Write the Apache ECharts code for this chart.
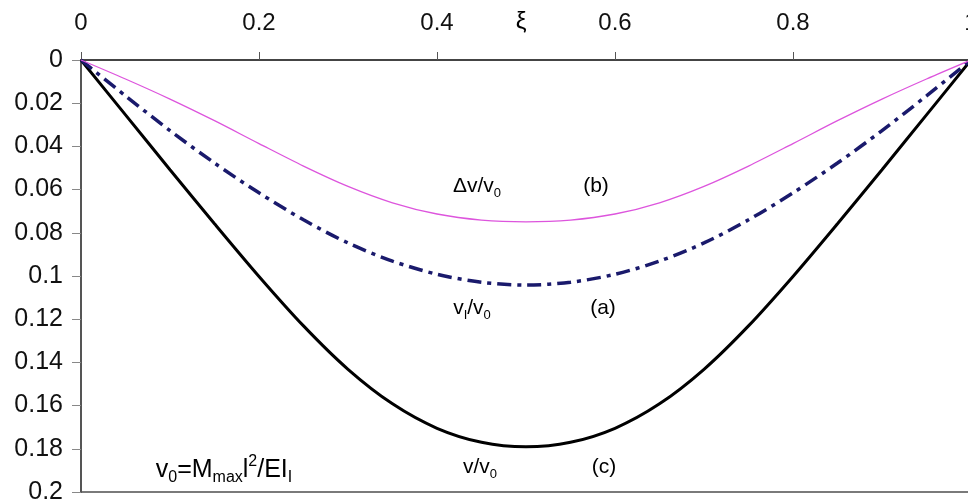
<!DOCTYPE html>
<html>
<head>
<meta charset="utf-8">
<script src="https://cdn.jsdelivr.net/npm/echarts@6/dist/echarts.min.js"></script>
<style>
  html, body { margin: 0; padding: 0; background: #fff; }
  #chart { width: 968px; height: 504px; }
</style>
</head>
<body>
<div id="chart"></div>
<script>
// Position along the beam, xi = x / l
const xi = [0, 0.05, 0.1, 0.15, 0.2, 0.25, 0.3, 0.35, 0.4, 0.45, 0.5,
            0.55, 0.6, 0.65, 0.7, 0.75, 0.8, 0.85, 0.9, 0.95, 1];

// (a) deflection of the uncracked beam, vI / v0
const vIRatio = [0, 0.0166, 0.0327, 0.0477, 0.0615, 0.0740, 0.0847, 0.0931, 0.0992, 0.1029, 0.1042,
                 0.1029, 0.0992, 0.0931, 0.0847, 0.0740, 0.0615, 0.0477, 0.0327, 0.0166, 0];

// (b) additional deflection, Δv / v0
const dvRatio = [0, 0.0088, 0.0181, 0.0281, 0.0387, 0.0491, 0.0585, 0.0661, 0.0713, 0.0741, 0.0749,
                 0.0741, 0.0713, 0.0661, 0.0585, 0.0491, 0.0387, 0.0281, 0.0181, 0.0088, 0];

// (c) total deflection, v / v0
const vRatio = [0, 0.0254, 0.0508, 0.0758, 0.1002, 0.1231, 0.1432, 0.1592, 0.1705, 0.1770, 0.1791,
                0.1770, 0.1705, 0.1592, 0.1432, 0.1231, 0.1002, 0.0758, 0.0508, 0.0254, 0];

// Axis ranges and tick steps
const xRange = [0, 1];
const xStep = 0.2;
const yRange = [0, 0.2];
const yStep = 0.02;

const FONT = '"Liberation Sans", Arial, sans-serif';

function pairs(ys) {
  return xi.map((x, i) => [x, ys[i]]);
}

const chart = echarts.init(document.getElementById('chart'), null, { renderer: 'canvas' });

const labelRich = {
  m: { fontSize: 21, fontFamily: FONT, color: '#111', lineHeight: 28, verticalAlign: 'middle' },
  s: { fontSize: 13, fontFamily: FONT, color: '#111', lineHeight: 13, verticalAlign: 'bottom' }
};

const formulaRich = {
  m: { fontSize: 25, fontFamily: FONT, color: '#111', lineHeight: 32, verticalAlign: 'middle' },
  s: { fontSize: 16, fontFamily: FONT, color: '#111', lineHeight: 15, verticalAlign: 'bottom' },
  p: { fontSize: 16, fontFamily: FONT, color: '#111', lineHeight: 22, verticalAlign: 'top' }
};

function note(x, y, text, rich) {
  return {
    type: 'text',
    x: x, y: y,
    style: {
      text: text,
      rich: rich || labelRich,
      align: 'center',
      verticalAlign: 'middle'
    },
    z: 10
  };
}

function curve(name, ys, lineStyle, z) {
  return {
    name: name,
    type: 'line',
    data: pairs(ys),
    smooth: 0.3,
    showSymbol: false,
    lineStyle: lineStyle,
    z: z
  };
}

chart.setOption({
  animation: false,
  backgroundColor: '#fff',
  grid: {
    left: 81, top: 60, width: 890, bottom: 12,
    outerBoundsMode: 'none',
    containLabel: false,
    show: true,
    borderColor: '#7a7a7a',
    borderWidth: 2,
    backgroundColor: 'transparent'
  },
  xAxis: {
    type: 'value',
    position: 'top',
    min: xRange[0], max: xRange[1], interval: xStep,
    axisLine: { show: true, onZero: false, lineStyle: { color: '#444', width: 2 } },
    axisTick: { show: true, inside: false, length: 8, lineStyle: { color: '#555', width: 1 } },
    axisLabel: {
      fontSize: 24, fontFamily: FONT, color: '#111', margin: 25,
      alignMinLabel: 'center', alignMaxLabel: 'center'
    },
    splitLine: { show: false }
  },
  yAxis: {
    type: 'value',
    inverse: true,
    min: yRange[0], max: yRange[1], interval: yStep,
    axisLine: { show: true, onZero: false, lineStyle: { color: '#555', width: 2 } },
    axisTick: { show: true, inside: false, length: 9, lineStyle: { color: '#888', width: 1 } },
    axisLabel: { fontSize: 25, fontFamily: FONT, color: '#111', margin: 18 },
    splitLine: { show: false }
  },
  series: [
    curve('v/v0', vRatio, { color: '#000', width: 3 }, 3),
    curve('vI/v0', vIRatio, { color: '#1a1a6c', width: 3.5, type: [14, 6, 4, 6] }, 4),
    curve('Δv/v0', dvRatio, { color: '#dd55dd', width: 1.3 }, 5)
  ],
  graphic: [
    note(521, 22, '{m|ξ}', { m: { fontSize: 24, fontFamily: FONT, color: '#111' } }),
    note(477, 186, '{m|Δv/v}{s|0}'),
    note(596, 186, '{m|(b)}'),
    note(472, 308, '{m|v}{s|I}{m|/v}{s|0}'),
    note(603, 308, '{m|(a)}'),
    note(480, 467, '{m|v/v}{s|0}'),
    note(604, 467, '{m|(c)}'),
    note(224, 470, '{m|v}{s|0}{m|=M}{s|max}{m|l}{p|2}{m|/EI}{s|I}', formulaRich)
  ]
});
</script>
</body>
</html>
